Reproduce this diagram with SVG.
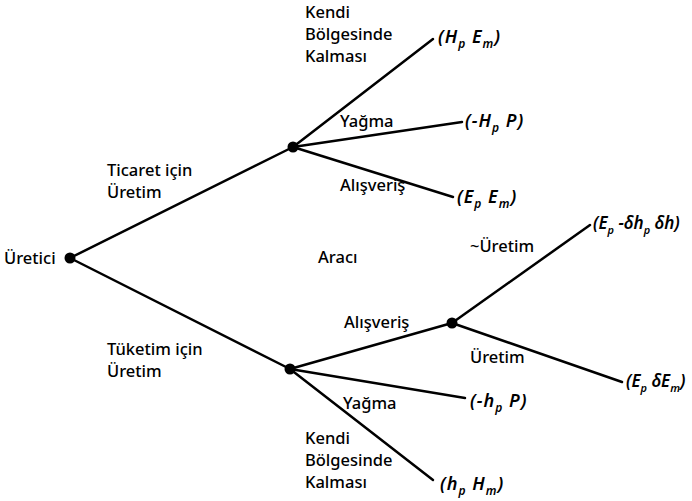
<svg xmlns="http://www.w3.org/2000/svg" width="692" height="501" viewBox="0 0 692 501">
<style>
.l{font-family:"Noto Sans","Open Sans",sans-serif;font-size:16.5px;font-weight:500;fill:#000}
.f{font-family:"Noto Sans","Open Sans",sans-serif;font-size:18px;font-style:italic;font-weight:600;letter-spacing:1px;fill:#000}
.f .t{font-size:17px;letter-spacing:0}
.s{font-size:12px}
.f .t .s{font-size:11px}
.e{stroke:#000;stroke-width:2.5;fill:none;stroke-linecap:round}
</style>
<rect width="692" height="501" fill="#fff"/>
<g id="connectors" class="e">
<line x1="70" y1="258" x2="293" y2="147"/>
<line x1="70" y1="258" x2="290" y2="369"/>
<line x1="293" y1="147" x2="433" y2="39"/>
<line x1="293" y1="147" x2="462" y2="122"/>
<line x1="293" y1="147" x2="453" y2="197"/>
<line x1="290" y1="369" x2="452" y2="323"/>
<line x1="290" y1="369" x2="465" y2="398"/>
<line x1="290" y1="369" x2="433" y2="480"/>
<line x1="452" y1="323" x2="590" y2="225"/>
<line x1="452" y1="323" x2="622" y2="382"/>
</g>
<g id="uretici"><circle cx="70" cy="258" r="5.5"/><text class="l" x="4" y="264">Üretici</text></g>
<g id="ticaret"><circle cx="293" cy="147" r="5.5"/></g>
<g id="tuketim"><circle cx="290" cy="369" r="5.5"/></g>
<g id="alisveris2"><circle cx="452" cy="323" r="5.5"/></g>
<g id="labels" class="l">
<text x="305" y="18">Kendi</text>
<text x="305" y="40">Bölgesinde</text>
<text x="305" y="62">Kalması</text>
<text x="340" y="127">Yağma</text>
<text x="340" y="191">Alışveriş</text>
<text x="107" y="176">Ticaret için</text>
<text x="107" y="198">Üretim</text>
<text x="318" y="263">Aracı</text>
<text x="107" y="355">Tüketim için</text>
<text x="107" y="377">Üretim</text>
<text x="344" y="328">Alışveriş</text>
<text x="470" y="252">~Üretim</text>
<text x="470" y="363">Üretim</text>
<text x="343" y="409">Yağma</text>
<text x="305" y="444">Kendi</text>
<text x="305" y="466">Bölgesinde</text>
<text x="305" y="488">Kalması</text>
</g>
<g id="outcomes" class="f">
<text x="438" y="43">(H<tspan class="s" dy="5">p</tspan><tspan dy="-5"> E</tspan><tspan class="s" dy="5">m</tspan><tspan dy="-5">)</tspan></text>
<text x="465" y="127">(-H<tspan class="s" dy="5">p</tspan><tspan dy="-5"> P)</tspan></text>
<text x="457" y="203">(E<tspan class="s" dy="5">p</tspan><tspan dy="-5"> E</tspan><tspan class="s" dy="5">m</tspan><tspan dy="-5">)</tspan></text>
<text class="t" x="593" y="229">(E<tspan class="s" dy="5">p</tspan><tspan dy="-5"> -δh</tspan><tspan class="s" dy="5">p</tspan><tspan dy="-5"> δh)</tspan></text>
<text class="t" x="626" y="387">(E<tspan class="s" dy="5">p</tspan><tspan dy="-5"> δE</tspan><tspan class="s" dy="5">m</tspan><tspan dy="-5">)</tspan></text>
<text x="470" y="407">(-h<tspan class="s" dy="5">p</tspan><tspan dy="-5"> P)</tspan></text>
<text x="440" y="490">(h<tspan class="s" dy="5">p</tspan><tspan dy="-5"> H</tspan><tspan class="s" dy="5">m</tspan><tspan dy="-5">)</tspan></text>
</g>
</svg>
